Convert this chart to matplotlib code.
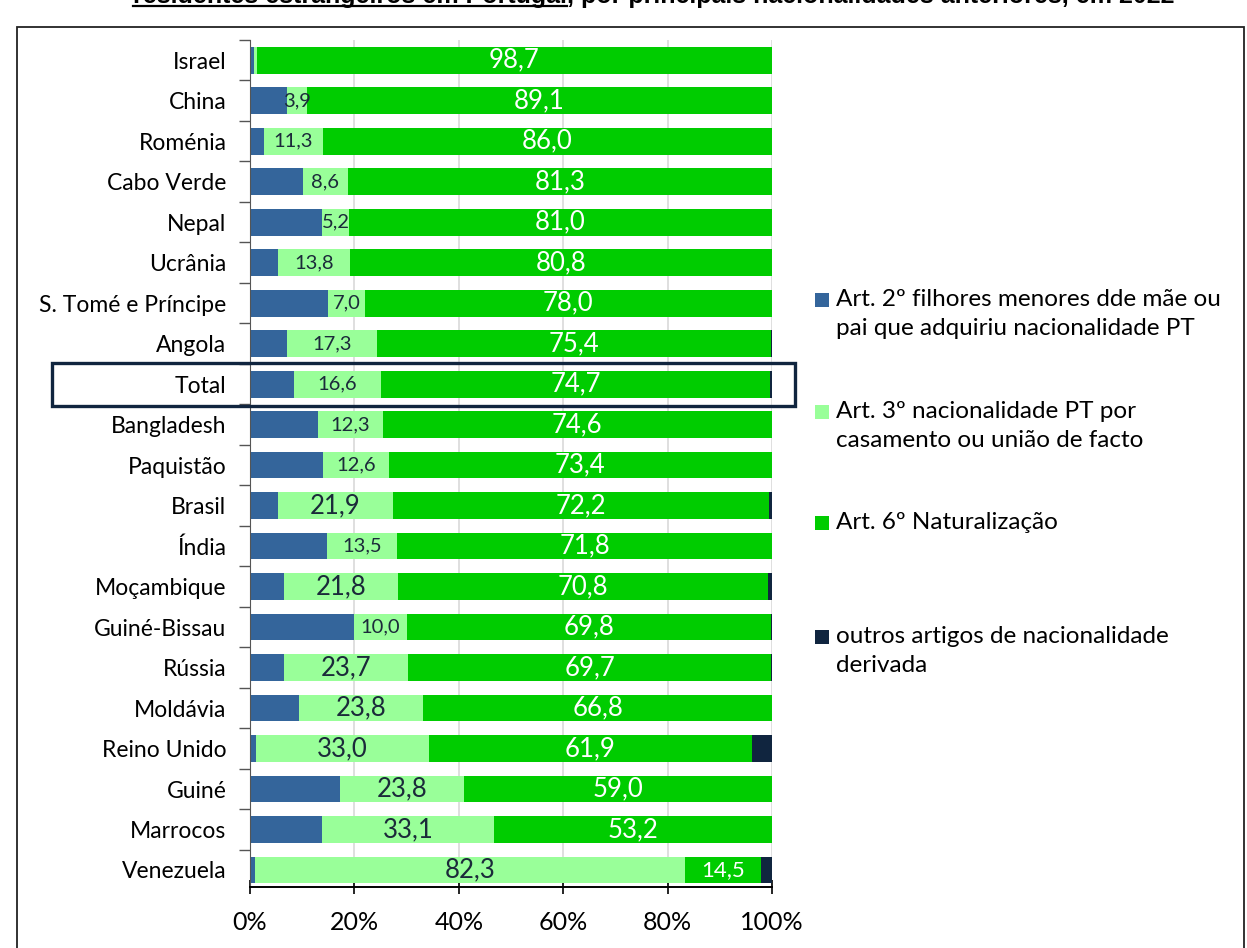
import numpy as np
import matplotlib
matplotlib.use("Agg")
import matplotlib.pyplot as plt
from matplotlib.patches import Rectangle
from matplotlib.transforms import blended_transform_factory

plt.rcParams['font.family'] = ['Lato', 'DejaVu Sans']

paises = ["Israel", "China", "Roménia", "Cabo Verde", "Nepal", "Ucrânia",
          "S. Tomé e Príncipe", "Angola", "Total", "Bangladesh", "Paquistão",
          "Brasil", "Índia", "Moçambique", "Guiné-Bissau", "Rússia", "Moldávia",
          "Reino Unido", "Guiné", "Marrocos", "Venezuela"]

# % por artigo (estimado a partir da figura para art2 e outros)
art2 = [0.8, 7.0, 2.7, 10.1, 13.8, 5.4, 15.0, 7.1, 8.4, 13.1, 14.0,
        5.4, 14.7, 6.6, 20.0, 6.5, 9.4, 1.2, 17.2, 13.7, 1.0]
art3 = [0.5, 3.9, 11.3, 8.6, 5.2, 13.8, 7.0, 17.3, 16.6, 12.3, 12.6,
        21.9, 13.5, 21.8, 10.0, 23.7, 23.8, 33.0, 23.8, 33.1, 82.3]
art6 = [98.7, 89.1, 86.0, 81.3, 81.0, 80.8, 78.0, 75.4, 74.7, 74.6, 73.4,
        72.2, 71.8, 70.8, 69.8, 69.7, 66.8, 61.9, 59.0, 53.2, 14.5]
outros = [0.0, 0.0, 0.0, 0.0, 0.0, 0.0, 0.0, 0.2, 0.3, 0.0, 0.0,
          0.5, 0.0, 0.8, 0.2, 0.1, 0.0, 3.9, 0.0, 0.0, 2.2]

legendas = ["Art. 2º filhores menores dde mãe ou\npai que adquiriu nacionalidade PT",
            "Art. 3º nacionalidade PT por\ncasamento ou união de facto",
            "Art. 6º Naturalização",
            "outros artigos de nacionalidade\nderivada"]
cores = ["#34659B", "#99FF99", "#00CC00", "#10253F"]

titulo1 = "residentes estrangeiros em Portugal"
titulo2 = ", por principais nacionalidades anteriores, em 2022"

W, H = 1247, 948
fig = plt.figure(figsize=(W / 100, H / 100), dpi=100)
ax = fig.add_axes([250 / W, 1 - 887 / H, (772 - 250) / W, (887 - 40) / H])

y = np.arange(len(paises))
a2 = np.array(art2); a3 = np.array(art3); a6 = np.array(art6); ou = np.array(outros)
h = 0.66
ax.barh(y, a2, height=h, color=cores[0])
ax.barh(y, a3, left=a2, height=h, color=cores[1])
ax.barh(y, a6, left=a2 + a3, height=h, color=cores[2])
ax.barh(y, ou, left=a2 + a3 + a6, height=h, color=cores[3])

for i in range(len(paises)):
    if art3[i] >= 2:
        fs = 18.5 if art3[i] >= 20 else 14.5
        ax.text(a2[i] + a3[i] / 2, y[i], f"{art3[i]:.1f}".replace(".", ","),
                ha="center", va="center", fontsize=fs, color="#1B2A3A")
    fs6 = 18.5 if art6[i] >= 20 else 16
    ax.text(a2[i] + a3[i] + a6[i] / 2, y[i], f"{art6[i]:.1f}".replace(".", ","),
            ha="center", va="center", fontsize=fs6, color="white")

ax.set_xlim(0, 100)
ax.set_ylim(20.42, -0.5)
ax.set_xticks(np.arange(0, 101, 20))
ax.set_xticklabels([f"{v}%" for v in range(0, 101, 20)])
ax.set_yticks(y)
ax.set_yticklabels(paises)
ax.set_yticks(np.arange(-0.5, 20, 1), minor=True)
ax.tick_params(axis="y", which="major", length=0, pad=17, labelsize=16.5)
ax.tick_params(axis="y", which="minor", length=8, width=1, color="#555555")
ax.tick_params(axis="x", which="major", direction="inout", length=10, width=1.2,
               labelsize=18, pad=12)
ax.xaxis.grid(True, color="#D9D9D9", lw=1.2)
ax.set_axisbelow(True)
for s in ["top", "right"]:
    ax.spines[s].set_visible(False)
ax.spines["left"].set_color("#555555")
ax.spines["bottom"].set_linewidth(1.4)

# caixa do Total
tr = blended_transform_factory(fig.transFigure, ax.transData)
i_tot = paises.index("Total")
ax.add_patch(Rectangle((52 / W, i_tot + 0.53), (795 - 52) / W, -1.06, transform=tr,
                       fill=False, lw=2.4, ec="#10253F", clip_on=False, zorder=5))

# moldura
fig.patches.append(Rectangle((17 / W, -0.1), (1244 - 17) / W, 0.1 + (948 - 27) / H,
                             transform=fig.transFigure, fill=False, lw=1.3, ec="#222222"))

# legenda
ly = [300, 412, 523, 637]
for k in range(4):
    fig.patches.append(Rectangle((815 / W, 1 - (ly[k] + 7) / H), 14 / W, 14 / H,
                                 transform=fig.transFigure, fc=cores[k], ec="none"))
    fig.text(836 / W, 1 - (ly[k] - 11) / H, legendas[k], fontsize=17.5, va="top",
             ha="left", linespacing=1.45)

# titulo (cortado no topo)
ty = 1 - 3 / H
t1 = fig.text(133 / W, ty, titulo1, fontsize=18, fontweight="bold",
              family="Liberation Sans", va="baseline", ha="left")
fig.canvas.draw()
bb = t1.get_window_extent()
fig.text(bb.x1 / W, ty, titulo2, fontsize=18, fontweight="bold",
         family="Liberation Sans", va="baseline", ha="left")
fig.add_artist(plt.Line2D([bb.x0 / W, bb.x1 / W], [1 - 5.5 / H] * 2,
                          transform=fig.transFigure, color="black", lw=1.6))

fig.savefig("out.png", dpi=100)
